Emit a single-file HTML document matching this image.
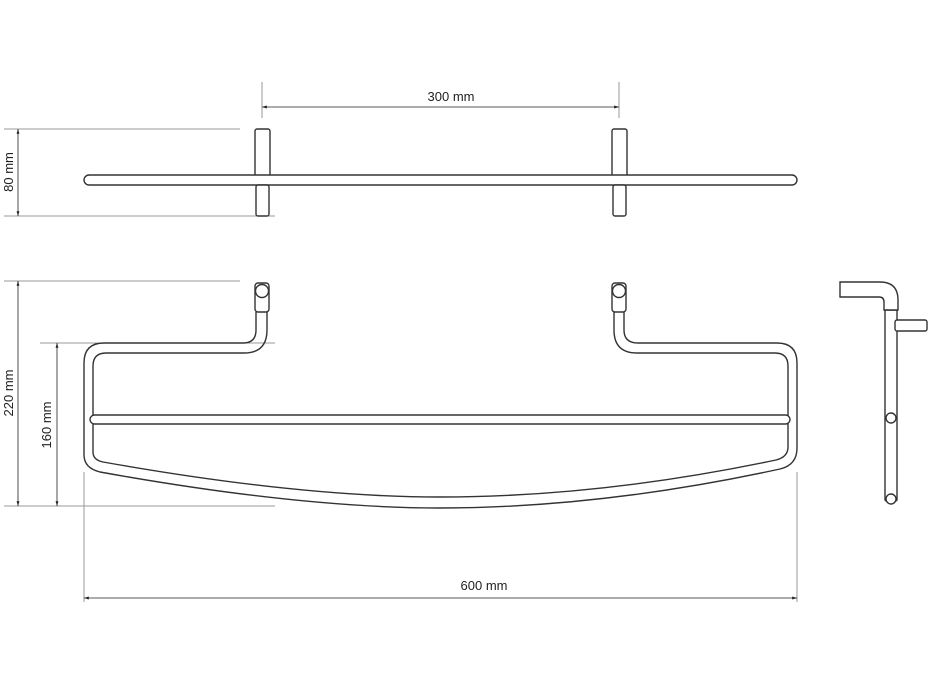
<!DOCTYPE html>
<html><head><meta charset="utf-8"><style>
html,body{margin:0;padding:0;background:#fff}
svg{display:block}
text{font-family:"Liberation Sans",sans-serif;font-size:13px;fill:#222}
</style></head><body>
<svg width="928" height="686" viewBox="0 0 928 686" xmlns="http://www.w3.org/2000/svg">
<defs>
<marker id="a" viewBox="0 0 10 10" refX="10" refY="5" markerWidth="6" markerHeight="6" orient="auto-start-reverse"><path d="M0,2 L10,5 L0,8 z" fill="#222"/></marker>
</defs>
<g stroke="#999" stroke-width="1" fill="none">
<line x1="4" y1="129" x2="240" y2="129"/>
<line x1="4" y1="216" x2="275" y2="216"/>
<line x1="262" y1="82" x2="262" y2="118"/>
<line x1="619" y1="82" x2="619" y2="118"/>
<line x1="4" y1="281" x2="240" y2="281"/>
<line x1="40" y1="343" x2="275" y2="343"/>
<line x1="4" y1="506" x2="275" y2="506"/>
<line x1="84" y1="472" x2="84" y2="602"/>
<line x1="797" y1="472" x2="797" y2="602"/>
</g>
<g stroke="#222" stroke-width="0.8" fill="none">
<line x1="262" y1="107" x2="619" y2="107" marker-start="url(#a)" marker-end="url(#a)"/>
<line x1="18" y1="129" x2="18" y2="216" marker-start="url(#a)" marker-end="url(#a)"/>
<line x1="18" y1="281" x2="18" y2="506" marker-start="url(#a)" marker-end="url(#a)"/>
<line x1="57" y1="343" x2="57" y2="506" marker-start="url(#a)" marker-end="url(#a)"/>
<line x1="84" y1="598" x2="797" y2="598" marker-start="url(#a)" marker-end="url(#a)"/>
</g>
<text x="451" y="101" text-anchor="middle">300 mm</text>
<text x="484" y="590" text-anchor="middle">600 mm</text>
<text transform="translate(13,172) rotate(-90)" text-anchor="middle">80 mm</text>
<text transform="translate(13,393) rotate(-90)" text-anchor="middle">220 mm</text>
<text transform="translate(51,425) rotate(-90)" text-anchor="middle">160 mm</text>
<g stroke="#333" stroke-width="1.4" fill="#fff">
<!-- top view -->
<rect x="255" y="129" width="15" height="50" rx="2"/>
<rect x="612" y="129" width="15" height="50" rx="2"/>
<rect x="84" y="175" width="713" height="10" rx="5"/>
<rect x="256" y="185" width="13" height="31" rx="2"/>
<rect x="613" y="185" width="13" height="31" rx="2"/>
<!-- front view frame -->
<path fill="none" d="M267,312 L267,330 Q267,353 244,353 L106,353 Q93,353 93,366 L93,452 Q93,460 103,462 Q300,497 440,497 Q600,497 776,460 Q788,457 788,447 L788,366 Q788,353 775,353 L637,353 Q614,353 614,330 L614,312"/>
<path fill="none" d="M256,312 L256,330 Q256,343 243,343 L104,343 Q84,343 84,363 L84,455 Q84,468 100,472 Q300,508 440,508 Q600,508 780,469 Q797,465 797,448 L797,363 Q797,343 777,343 L638,343 Q624,343 624,330 L624,312"/>
<rect x="90" y="415" width="700" height="9" rx="4.5"/>
<rect x="255" y="283" width="14" height="29" rx="3"/>
<circle cx="262" cy="291" r="6.5"/>
<rect x="612" y="283" width="14" height="29" rx="3"/>
<circle cx="619" cy="291" r="6.5"/>
<!-- side view -->
<path d="M885,310 L885,500 Q891,506 897,500 L897,310 z"/>
<circle cx="891" cy="499" r="5"/>
<circle cx="891" cy="418" r="5"/>
<path d="M840,282 L880,282 Q898,282 898,300 L898,310 L884,310 L884,302 Q884,297 879,297 L840,297 z"/>
<rect x="895" y="320" width="32" height="11" rx="2"/>
</g>
</svg>
</body></html>
